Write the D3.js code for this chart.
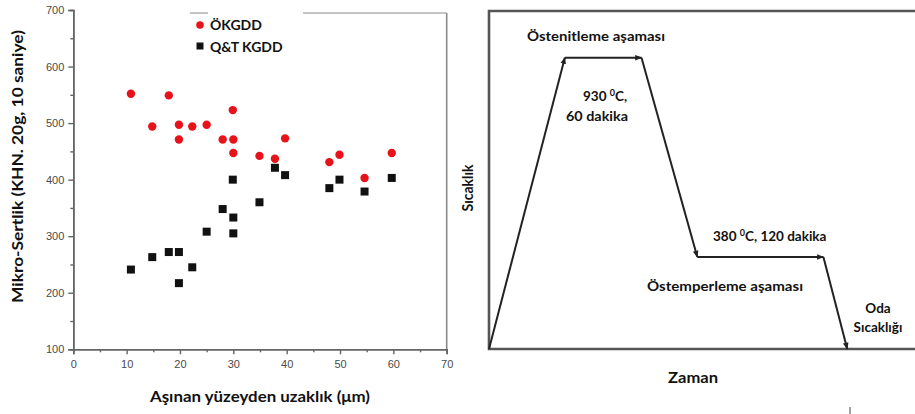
<!DOCTYPE html>
<html><head><meta charset="utf-8">
<script src="https://cdn.jsdelivr.net/npm/d3@7"></script>
<style>body{margin:0;background:#fff}svg{display:block}</style>
</head><body>
<svg id="c" width="915" height="414"></svg>
<script>
// ---- data ----
const xTicks = [0,10,20,30,40,50,60,70];
const yTicks = [100,200,300,400,500,600,700];
const okgddX = [10.8,14.8,17.9,19.8,19.8,22.3,25,28,29.9,30,30,34.9,37.8,39.7,48,49.9,54.6,59.7];
const okgddY = [552,494,549,497,471,494,497,471,523,471,447,442,437,473,431,444,403,447];
const qtX = [10.8,14.8,17.9,19.8,19.8,22.3,25,28,30,30,29.9,34.9,37.8,39.7,48,49.9,54.6,59.7];
const qtY = [241,263,272,272,217,245,308,348,333,305,400,360,421,408,385,400,379,403];
const seriesNames = ["ÖKGDD","Q&T KGDD"];
// heat-treatment profile (relative time, relative temperature level)
const profT = [0,17.8,35.8,48.9,78.5,84.1];
const profL = [0,100,100,31.6,31.6,0];

const svg = d3.select("#c");
const F = "Lato, 'Open Sans', sans-serif";

// ---- left scatter ----
const x = d3.scaleLinear().domain([0,70]).range([73.3,446.7]);
const y = d3.scaleLinear().domain([100,700]).range([349.3,10]);

// frame (top & right light gray)
svg.append("line").attr("x1",190).attr("x2",x(70)).attr("y1",13).attr("y2",13).attr("stroke","#c4c4c4").attr("stroke-width",2);
svg.append("line").attr("x1",x(70)).attr("x2",x(70)).attr("y1",13).attr("y2",y(100)).attr("stroke","#8a8a8a").attr("stroke-width",1.6);

const gx = svg.append("g").attr("transform",`translate(0,${y(100)})`)
  .call(d3.axisBottom(x).tickValues(xTicks).tickSize(5).tickPadding(6).tickFormat(d3.format("d")));
const gxm = svg.append("g").attr("transform",`translate(0,${y(100)})`)
  .call(d3.axisBottom(x).tickValues(d3.range(5,70,10)).tickSize(3).tickFormat(""));
const gy = svg.append("g").attr("transform",`translate(${x(0)},0)`)
  .call(d3.axisLeft(y).tickValues(yTicks).tickSize(5).tickPadding(4).tickFormat(d3.format("d")));
const gym = svg.append("g").attr("transform",`translate(${x(0)},0)`)
  .call(d3.axisLeft(y).tickValues(d3.range(150,700,100)).tickSize(3).tickFormat(""));
[gx,gxm,gy,gym].forEach(g=>{
  g.select(".domain").attr("stroke","#666").attr("stroke-width",1.6);
  g.selectAll(".tick line").attr("stroke","#666").attr("stroke-width",1.4);
  g.selectAll(".tick text").attr("fill","#4a4a4a").attr("font-family","Arial, 'Liberation Sans', sans-serif").attr("font-size",11);
});

// legend
svg.append("rect").attr("x",208).attr("y",10).attr("width",95).attr("height",6).attr("fill","#fff");
svg.append("circle").attr("cx",200).attr("cy",25).attr("r",3.8).attr("fill","#e8121a");
svg.append("rect").attr("x",196.5).attr("y",42.5).attr("width",7).attr("height",7).attr("fill","#111");
svg.append("text").attr("x",210).attr("y",30).text(seriesNames[0]).attr("font-family",F).attr("font-weight","bold").attr("font-size",14).attr("fill","#111");
svg.append("text").attr("x",210).attr("y",52).text(seriesNames[1]).attr("font-family",F).attr("font-weight","bold").attr("font-size",14).attr("fill","#111");

// points
svg.append("g").selectAll("circle").data(okgddX.map((v,i)=>[v,okgddY[i]])).join("circle")
  .attr("cx",d=>x(d[0])).attr("cy",d=>y(d[1])).attr("r",4.2).attr("fill","#e8121a");
svg.append("g").selectAll("rect").data(qtX.map((v,i)=>[v,qtY[i]])).join("rect")
  .attr("x",d=>x(d[0])-4).attr("y",d=>y(d[1])-4).attr("width",8).attr("height",8).attr("fill","#111");

// axis titles
svg.append("text").attr("transform",`translate(23,${(30+303)/2}) rotate(-90)`).attr("text-anchor","middle")
  .attr("font-family",F).attr("font-weight","bold").attr("font-size",15).attr("fill","#111")
  .attr("textLength",273).attr("lengthAdjust","spacingAndGlyphs")
  .text("Mikro-Sertlik (KHN. 20g, 10 saniye)");
svg.append("text").attr("x",260).attr("y",402).attr("text-anchor","middle")
  .attr("font-family",F).attr("font-weight","bold").attr("font-size",15).attr("fill","#111")
  .attr("textLength",220).attr("lengthAdjust","spacingAndGlyphs")
  .text("Aşınan yüzeyden uzaklık (μm)");

// ---- right diagram ----
const tx = d3.scaleLinear().domain([0,100]).range([489,915]);
const ty = d3.scaleLinear().domain([0,100]).range([349,57.7]);
const frameCol = "#555";
svg.append("path").attr("d",`M${tx(100)},${ty(0)}H${tx(0)}V11H${tx(100)}`)
  .attr("fill","none").attr("stroke",frameCol).attr("stroke-width",2.6);

svg.append("defs").append("marker").attr("id","ah").attr("viewBox","0 0 10 10").attr("refX",9).attr("refY",5)
  .attr("markerWidth",7).attr("markerHeight",7).attr("markerUnits","userSpaceOnUse").attr("orient","auto")
  .append("path").attr("d","M0,1L10,5L0,9Z").attr("fill","#222");
const pts = profT.map((t,i)=>[tx(t),ty(profL[i])]);
svg.append("g").selectAll("line").data(d3.pairs(pts)).join("line")
  .attr("x1",d=>d[0][0]).attr("y1",d=>d[0][1]).attr("x2",d=>d[1][0]).attr("y2",d=>d[1][1])
  .attr("stroke","#222").attr("stroke-width",2).attr("marker-end","url(#ah)");

function lab(xp,yp,txt,anchor,size,len){
  const t = svg.append("text").attr("x",xp).attr("y",yp).attr("text-anchor",anchor||"start")
    .attr("font-family",F).attr("font-weight","bold").attr("font-size",size||13.5).attr("fill","#111").text(txt);
  if(len) t.attr("textLength",len).attr("lengthAdjust","spacingAndGlyphs");
  return t;
}
lab(527,41,"Östenitleme aşaması","start",13.5,138);
const t930 = svg.append("text").attr("x",583).attr("y",101).attr("font-family",F).attr("font-weight","bold").attr("font-size",13.5).attr("fill","#111");
t930.append("tspan").text("930 ");
t930.append("tspan").text("0").attr("font-size",9).attr("dy",-5);
t930.append("tspan").text("C,").attr("dy",5);
lab(566,121,"60 dakika","start",13.5,62);
const t380 = svg.append("text").attr("x",713).attr("y",241).attr("font-family",F).attr("font-weight","bold").attr("font-size",13.5).attr("fill","#111");
t380.append("tspan").text("380 ");
t380.append("tspan").text("0").attr("font-size",9).attr("dy",-5);
t380.append("tspan").text("C, 120 dakika").attr("dy",5);
lab(647,291,"Östemperleme aşaması","start",13.5,156);
lab(878,313,"Oda","middle",13.5);
lab(878,332,"Sıcaklığı","middle",13.5);
lab(693,383,"Zaman","middle",15,50);
svg.append("text").attr("transform","translate(473,188) rotate(-90)").attr("text-anchor","middle")
  .attr("font-family",F).attr("font-weight","bold").attr("font-size",15).attr("fill","#111")
  .attr("textLength",47).attr("lengthAdjust","spacingAndGlyphs").text("Sıcaklık");
svg.append("line").attr("x1",850).attr("x2",850).attr("y1",407).attr("y2",414).attr("stroke","#444").attr("stroke-width",1);
</script>
</body></html>
